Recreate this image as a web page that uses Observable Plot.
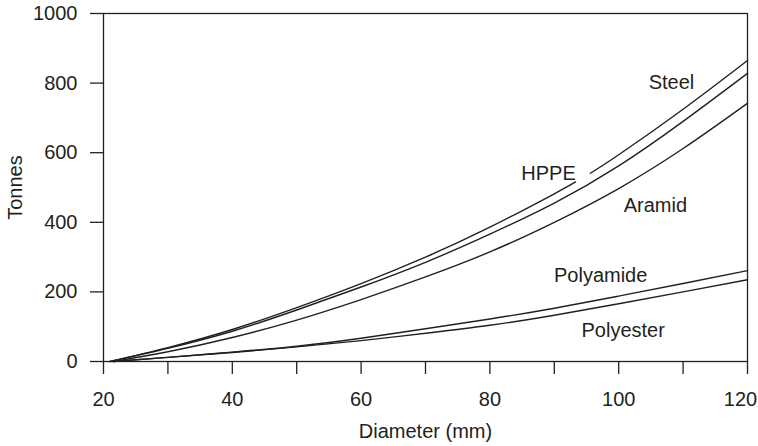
<!DOCTYPE html>
<html>
<head>
<meta charset="utf-8">
<script src="https://cdn.jsdelivr.net/npm/d3@7"></script>
<script src="https://cdn.jsdelivr.net/npm/@observablehq/plot@0.6"></script>
<style>
  html, body { margin: 0; padding: 0; background: #fff; }
  #chart { width: 758px; height: 446px; }
</style>
</head>
<body>
<div id="chart"></div>
<script>
// Diameter (mm) and breaking load (tonnes)
const steelD = [21, 30, 40, 50, 60, 70, 80, 90, 93.3, 94.5, 95.6, 100, 110, 120];
const steelT = [0, 40, 92, 155, 224, 300, 386, 482, 516, null, 541, 594, 725, 865];

const hppeD = [21, 30, 40, 50, 60, 70, 80, 90, 100, 110, 120];
const hppeT = [0, 38, 87, 148, 214, 285, 366, 455, 562, 690, 828];

const aramidD = [21.5, 30, 40, 50, 60, 70, 80, 90, 100, 110, 120];
const aramidT = [0, 28, 69, 119, 178, 243, 315, 400, 497, 612, 742];

const polyamideD = [21.5, 30, 40, 50, 60, 70, 80, 90, 100, 110, 120];
const polyamideT = [0, 12, 27, 44, 67, 94, 122, 153, 188, 224, 261];

const polyesterD = [21.5, 30, 40, 50, 60, 70, 80, 90, 100, 110, 120];
const polyesterT = [0, 12, 26, 42, 60, 81, 104, 133, 166, 200, 235];

const labelNames = ["Steel", "HPPE", "Aramid", "Polyamide", "Polyester"];
const labelD = [108.2, 89.1, 105.7, 97.2, 100.7];
const labelT = [802, 540, 448, 247, 89];

const xTicks = [20, 30, 40, 50, 60, 70, 80, 90, 100, 110, 120];
const xLastLabel = [120];
const yTicks = [0, 200, 400, 600, 800, 1000];

const toRows = (name, ds, ts) => ds.map((d, i) => ({series: name, d, t: ts[i]}));
const rows = [
  ...toRows("Steel", steelD, steelT),
  ...toRows("HPPE", hppeD, hppeT),
  ...toRows("Aramid", aramidD, aramidT),
  ...toRows("Polyamide", polyamideD, polyamideT),
  ...toRows("Polyester", polyesterD, polyesterT)
];
const labels = labelNames.map((name, i) => ({name, d: labelD[i], t: labelT[i]}));

const ink = "#231f20";
const fmtX = d => (d % 20 === 0 && d !== 120 ? String(d) : "");

const chart = Plot.plot({
  width: 758,
  height: 446,
  marginLeft: 103,
  marginRight: 11,
  marginTop: 13,
  marginBottom: 85,
  style: {fontFamily: "'Liberation Sans', Arial, Helvetica, sans-serif", fontSize: "20px", color: ink, background: "#fff"},
  x: {domain: [20, 120]},
  y: {domain: [0, 1000]},
  marks: [
    Plot.frame({stroke: ink, strokeWidth: 1.3}),
    Plot.axisX({
      ticks: xTicks,
      tickFormat: fmtX,
      tickSize: 13,
      tickPadding: 17,
      stroke: ink,
      strokeWidth: 1.3,
      label: "Diameter (mm)",
      labelAnchor: "center",
      labelArrow: "none",
      labelOffset: 76
    }),
    Plot.axisX({
      ticks: xLastLabel,
      tickFormat: d => String(d),
      tickSize: 0,
      tickPadding: 30,
      dx: -7,
      label: null
    }),
    Plot.axisY({
      ticks: yTicks,
      tickFormat: d => String(d),
      tickSize: 13,
      tickPadding: 13,
      stroke: ink,
      strokeWidth: 1.3,
      label: "Tonnes",
      labelAnchor: "center",
      labelArrow: "none",
      labelOffset: 96
    }),
    Plot.line(rows, {
      x: "d",
      y: "t",
      z: "series",
      stroke: ink,
      strokeWidth: 1.4,
      curve: "natural"
    }),
    Plot.text(labels, {
      x: "d",
      y: "t",
      text: "name",
      fill: ink,
      fontSize: 20
    })
  ]
});
document.getElementById("chart").appendChild(chart);
</script>
</body>
</html>
